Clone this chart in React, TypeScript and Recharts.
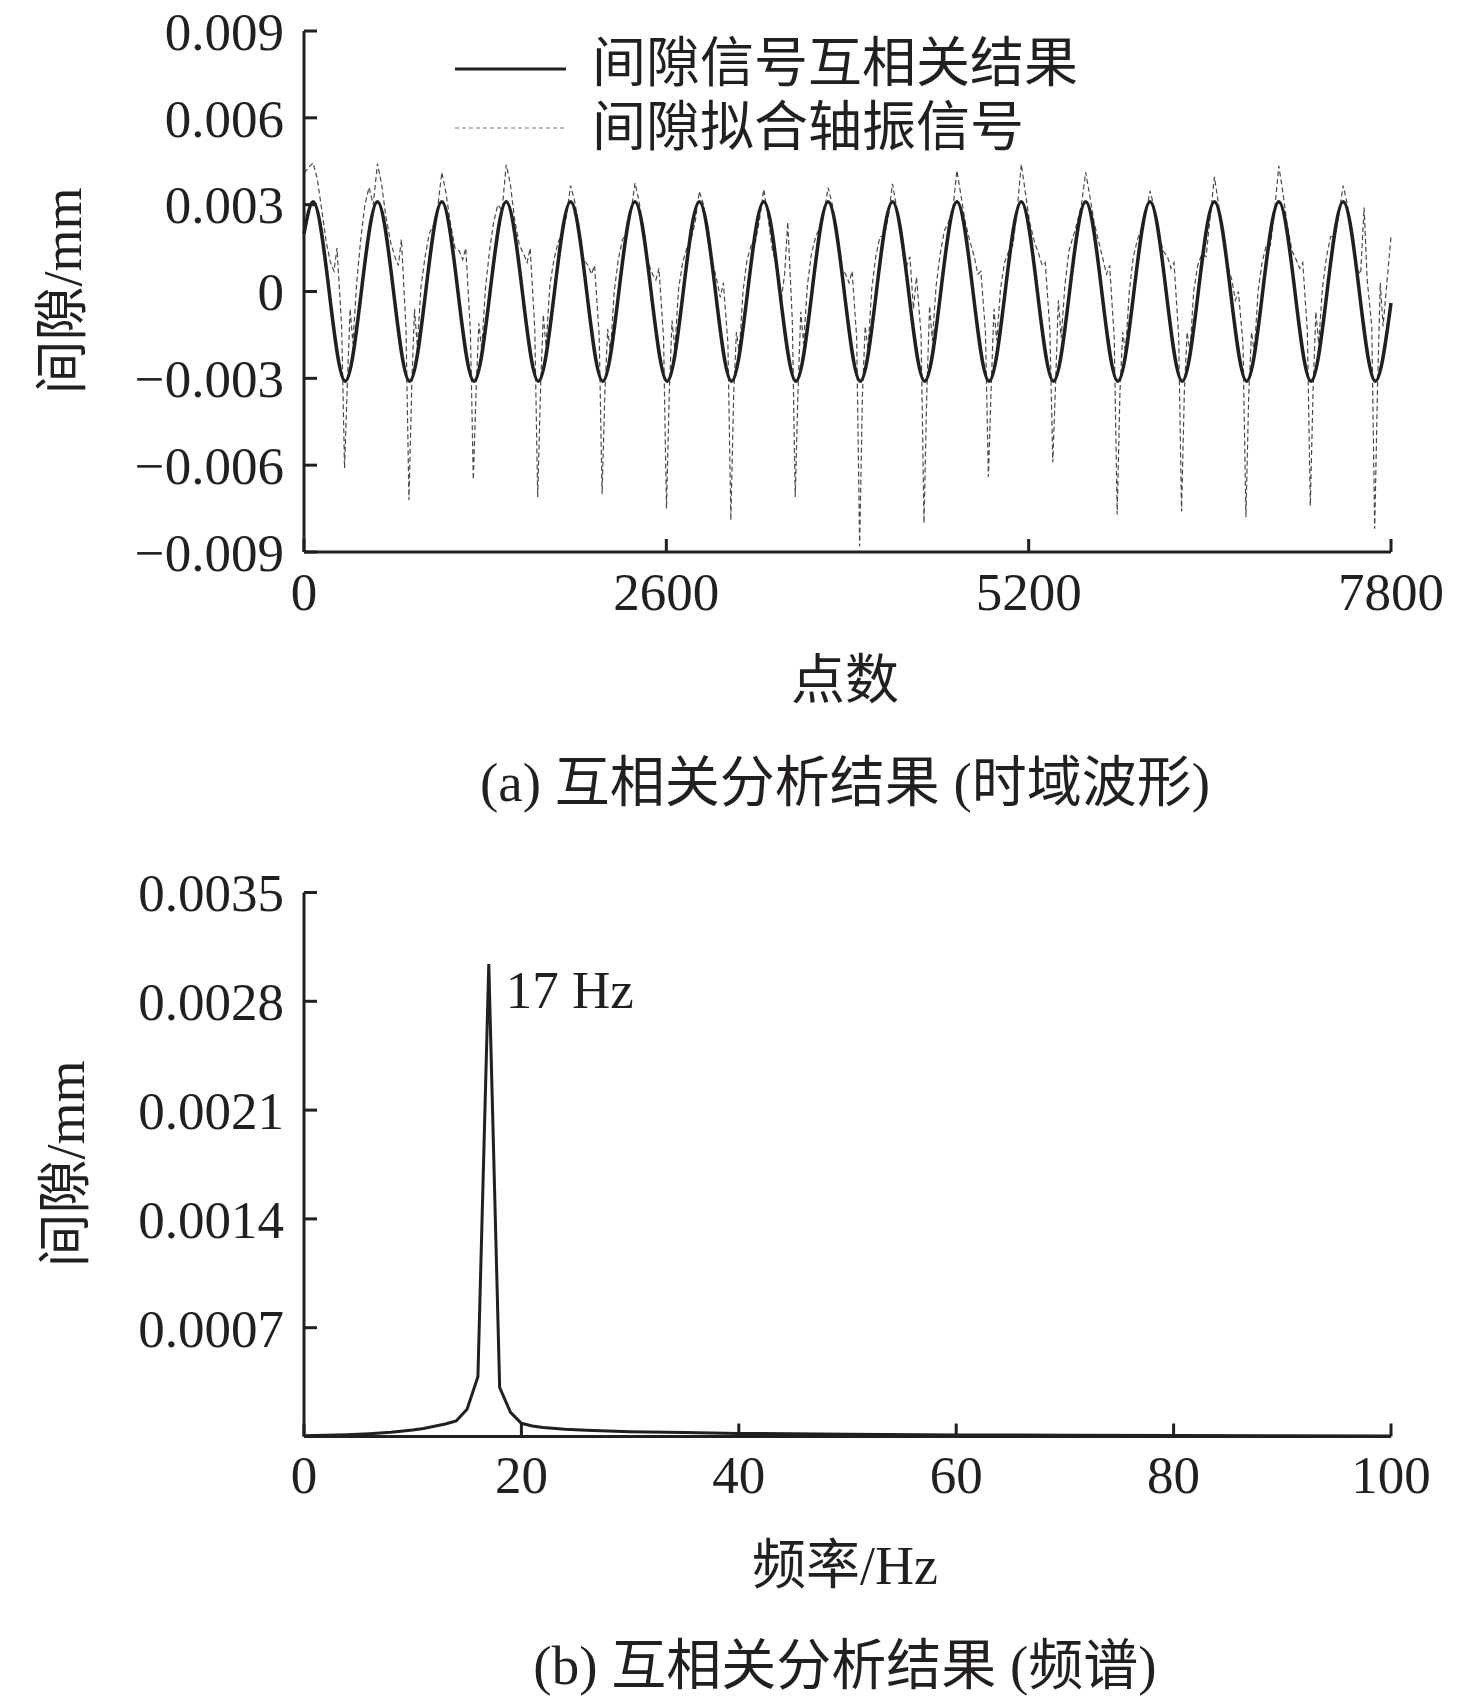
import { LineChart, Line, XAxis, YAxis, Legend, ReferenceDot } from "recharts";

const INK = "#231f20";
const SERIF = "'Liberation Serif', 'Times New Roman', 'Noto Sans CJK SC', serif";

// (a) time domain
const pointTicks = [0, 2600, 5200, 7800];
const gapTicks = [-0.009, -0.006, -0.003, 0, 0.003, 0.006, 0.009];

// cross-correlation result: start, alternating peaks / troughs, end
const corrX = [
  0, 65, 296, 527, 758, 989, 1220, 1451, 1682, 1913, 2144, 2375, 2606, 2837, 3068, 3299, 3530, 3761,
  3992, 4223, 4454, 4685, 4916, 5147, 5378, 5609, 5840, 6071, 6302, 6533, 6764, 6995, 7226, 7457,
  7688, 7800,
];
const corrY = [
  0.002, 0.0031, -0.0031, 0.0031, -0.0031, 0.0031, -0.0031, 0.0031, -0.0031, 0.0031, -0.0031, 0.0031,
  -0.0031, 0.0031, -0.0031, 0.0031, -0.0031, 0.0031, -0.0031, 0.0031, -0.0031, 0.0031, -0.0031, 0.0031,
  -0.0031, 0.0031, -0.0031, 0.0031, -0.0031, 0.0031, -0.0031, 0.0031, -0.0031, 0.0031, -0.0031, -0.0004,
];

// fitted shaft-vibration gap signal, one row per revolution
const fitSignal: [number, number][] = [
  [0, 0.0041], [65, 0.00445], [95, 0.0039], [125, 0.0029], [160, 0.0017], [190, 0.001], [215, 0.0007], [237, 0.0015], [270, -0.0012], [291, -0.0061], [311, -0.0032], [331, -0.0006], [351, -0.0018], [378, 0.0003],
  [407, 0.0018], [437, 0.003], [467, 0.0036], [497, 0.003], [527, 0.00442], [557, 0.0037], [587, 0.0026], [622, 0.0017], [652, 0.0012], [677, 0.0009], [699, 0.0018], [732, -0.0013], [753, -0.0072], [773, -0.0033], [793, -0.0006], [813, -0.0019], [840, 0.0002],
  [869, 0.0012], [899, 0.002], [929, 0.0023], [959, 0.0029], [989, 0.00412], [1019, 0.0034], [1049, 0.0024], [1084, 0.0015], [1114, 0.0014], [1139, 0.0011], [1161, 0.0015], [1194, -0.0014], [1215, -0.0065], [1235, -0.0034], [1255, -0.0011], [1275, -0.002], [1302, 0.0001],
  [1331, 0.0014], [1361, 0.0024], [1391, 0.003], [1421, 0.0028], [1451, 0.00438], [1481, 0.0037], [1511, 0.0025], [1546, 0.0016], [1576, 0.0013], [1601, 0.001], [1623, 0.0015], [1656, -0.0013], [1677, -0.0071], [1697, -0.0034], [1717, -0.0008], [1737, -0.0019], [1764, 0.0002],
  [1793, 0.0011], [1823, 0.0017], [1853, 0.002], [1883, 0.0026], [1913, 0.00366], [1943, 0.0031], [1973, 0.0022], [2008, 0.0011], [2038, 0.0009], [2063, 0.0006], [2085, 0.0009], [2118, -0.0015], [2139, -0.007], [2159, -0.0035], [2179, -0.0013], [2199, -0.0021], [2226, 0],
  [2255, 0.0011], [2285, 0.0018], [2315, 0.002], [2345, 0.0027], [2375, 0.00375], [2405, 0.0031], [2435, 0.0021], [2470, 0.001], [2500, 0.0006], [2525, 0.0004], [2547, 0.0008], [2580, -0.0016], [2601, -0.0075], [2621, -0.0035], [2641, -0.001], [2661, -0.002], [2688, 0.0001],
  [2717, 0.001], [2747, 0.0015], [2777, 0.0018], [2807, 0.0024], [2837, 0.00346], [2867, 0.003], [2897, 0.0018], [2932, 0.001], [2962, 0.0004], [2987, -0.0002], [3009, 0.0003], [3042, -0.0018], [3063, -0.0079], [3083, -0.0036], [3103, -0.0014], [3123, -0.0021], [3150, 0],
  [3179, 0.0011], [3209, 0.0016], [3239, 0.0017], [3269, 0.0025], [3299, 0.00353], [3329, 0.0026], [3359, 0.0015], [3394, 0.0008], [3424, -0.0003], [3449, 0.0006], [3471, 0.0024], [3504, -0.001], [3525, -0.0071], [3545, -0.0034], [3565, -0.0007], [3585, -0.0018], [3612, 0.0002],
  [3641, 0.0013], [3671, 0.0019], [3701, 0.0022], [3731, 0.0027], [3761, 0.00359], [3791, 0.003], [3821, 0.002], [3856, 0.0008], [3886, 0.0006], [3911, 0.0003], [3933, 0.0007], [3966, -0.0016], [3987, -0.0088], [4007, -0.0036], [4027, -0.0012], [4047, -0.002], [4074, 0.0001],
  [4103, 0.0012], [4133, 0.0019], [4163, 0.0019], [4193, 0.0026], [4223, 0.00372], [4253, 0.0029], [4283, 0.0019], [4318, 0.0008], [4348, 0.0012], [4373, -0.0006], [4395, 0.0005], [4428, -0.0015], [4449, -0.008], [4469, -0.0035], [4489, -0.0005], [4509, -0.0017], [4536, 0.0002],
  [4565, 0.0013], [4595, 0.0021], [4625, 0.0024], [4655, 0.0028], [4685, 0.00418], [4715, 0.0033], [4745, 0.0024], [4780, 0.0017], [4810, 0.0012], [4835, 0.0006], [4857, 0.0007], [4890, -0.0014], [4911, -0.0064], [4931, -0.0033], [4951, -0.0006], [4971, -0.0017], [4998, 0.0001],
  [5027, 0.001], [5057, 0.0014], [5087, 0.0016], [5117, 0.0028], [5147, 0.0044], [5177, 0.0034], [5207, 0.0024], [5242, 0.0017], [5272, 0.0013], [5297, 0.0009], [5319, 0.001], [5352, -0.0013], [5373, -0.0059], [5393, -0.0032], [5413, -0.0003], [5433, -0.0016], [5460, 0.0002],
  [5489, 0.0014], [5519, 0.0019], [5549, 0.0024], [5579, 0.003], [5609, 0.00412], [5639, 0.0033], [5669, 0.0024], [5704, 0.0017], [5734, 0.0011], [5759, 0.0006], [5781, 0.0009], [5814, -0.0016], [5835, -0.0077], [5855, -0.0035], [5875, -0.0014], [5895, -0.0021], [5922, 0],
  [5951, 0.0012], [5981, 0.0018], [6011, 0.0022], [6041, 0.0027], [6071, 0.00348], [6101, 0.0029], [6131, 0.002], [6166, 0.0014], [6196, 0.0012], [6221, 0.0008], [6243, 0.001], [6276, -0.0015], [6297, -0.0076], [6317, -0.0035], [6337, -0.0014], [6357, -0.0021], [6384, 0],
  [6413, 0.0009], [6443, 0.0013], [6473, 0.0012], [6503, 0.0026], [6533, 0.00396], [6563, 0.003], [6593, 0.0018], [6628, 0.0009], [6658, 0.0004], [6683, -0.0003], [6705, 0], [6738, -0.0018], [6759, -0.0078], [6779, -0.0036], [6799, -0.0014], [6819, -0.0021], [6846, 0],
  [6875, 0.001], [6905, 0.0016], [6935, 0.0016], [6965, 0.0028], [6995, 0.00434], [7025, 0.0034], [7055, 0.0023], [7090, 0.0014], [7120, 0.0011], [7145, 0.0008], [7167, 0.001], [7200, -0.0014], [7221, -0.0074], [7241, -0.0034], [7261, -0.0007], [7281, -0.0018], [7308, 0.0001],
  [7337, 0.0012], [7367, 0.0019], [7397, 0.0019], [7427, 0.0027], [7457, 0.00366], [7487, 0.003], [7517, 0.002], [7552, 0.0008], [7582, 0.0006], [7607, 0.0029], [7629, 0.0004], [7662, -0.0012], [7683, -0.0082], [7703, -0.0034], [7723, 0.0003], [7743, -0.0012], [7800, 0.0019],
];

// (b) spectrum
const freqTicks = [0, 20, 40, 60, 80, 100];
const ampTicks = [0.0007, 0.0014, 0.0021, 0.0028, 0.0035];
const freqHz = [0, 2, 4, 6, 8, 10, 11, 12, 13, 14, 15, 16, 17, 18, 19, 20, 21, 22, 24, 26, 28, 30, 35, 40, 50, 60, 70, 80, 90, 100];
const freqAmp = [
  0.000005, 0.000008, 0.000012, 0.000018, 0.000027, 0.000042, 0.000052, 0.000066, 0.00008, 0.0001,
  0.000175, 0.000385, 0.00304, 0.000315, 0.000155, 0.000085, 0.000068, 0.000058, 0.000047, 0.00004,
  0.000035, 0.000031, 0.000025, 0.00002, 0.000014, 0.00001, 0.000008, 0.000006, 0.000005, 0.000004,
];
const peakHz = 17;

const corrData = corrX.map((x, i) => ({ x, y: corrY[i] }));
const fitData = fitSignal.map(([x, y]) => ({ x, y }));
const specData = freqHz.map((x, i) => ({ x, y: freqAmp[i] }));
const peakAmp = freqAmp[freqHz.indexOf(peakHz)];

const axisStyle = { stroke: INK, strokeWidth: 3 };
const tickStyle = { fontSize: 53, fontFamily: SERIF, fill: INK };

const fmtGap = (v: number) => (v === 0 ? "0" : (v < 0 ? "\u2212" : "") + Math.abs(v).toFixed(3));
const fmtAmp = (v: number) => v.toFixed(4);

const renderLegend = () => (
  <svg width={1476} height={160} style={{ display: "block" }}>
    <line x1={455} x2={566} y1={69} y2={69} stroke={INK} strokeWidth={3} />
    <text x={592} y={82} fontSize={54} fontFamily={SERIF} fill={INK}>
      间隙信号互相关结果
    </text>
    <line x1={455} x2={566} y1={128} y2={128} stroke="#777" strokeWidth={1.2} strokeDasharray="4 3" />
    <text x={592} y={146} fontSize={54} fontFamily={SERIF} fill={INK}>
      间隙拟合轴振信号
    </text>
  </svg>
);

const PeakLabel = (props: any) => {
  const vb = props.viewBox || {};
  const cx = (vb.x ?? 0) + (vb.width ?? 0) / 2;
  const cy = (vb.y ?? 0) + (vb.height ?? 0) / 2;
  return (
    <text x={cx + 17} y={cy + 44} fontSize={53} fontFamily={SERIF} fill={INK}>
      {peakHz} Hz
    </text>
  );
};

export default function App() {
  return (
    <div
      style={{
        position: "absolute",
        left: 0,
        top: 0,
        width: 1476,
        height: 1697,
        background: "#fff",
        overflow: "hidden",
      }}
    >
      <div style={{ position: "absolute", left: 0, top: 0 }}>
        <LineChart width={1476} height={720} margin={{ top: 31, right: 85, bottom: 108, left: 0 }}>
          <XAxis
            type="number"
            dataKey="x"
            domain={[0, 7800]}
            ticks={pointTicks}
            interval={0}
            height={60}
            tickSize={-13}
            tickMargin={33}
            axisLine={axisStyle}
            tickLine={axisStyle}
            tick={tickStyle}
          />
          <YAxis
            type="number"
            domain={[-0.009, 0.009]}
            ticks={gapTicks}
            interval={0}
            allowDataOverflow
            width={304}
            tickSize={-13}
            tickMargin={33}
            tickFormatter={fmtGap}
            axisLine={axisStyle}
            tickLine={axisStyle}
            tick={tickStyle}
          />
          <Legend
            layout="vertical"
            align="center"
            verticalAlign="middle"
            wrapperStyle={{ left: 0, top: 0, width: 1476, height: 160 }}
            content={renderLegend}
          />
          <Line
            data={fitData}
            dataKey="y"
            type="linear"
            stroke="#4a4a4a"
            strokeWidth={1.2}
            strokeDasharray="5 3"
            dot={false}
            activeDot={false}
            isAnimationActive={false}
          />
          <Line
            data={corrData}
            dataKey="y"
            type="monotone"
            stroke={INK}
            strokeWidth={3.5}
            dot={false}
            activeDot={false}
            isAnimationActive={false}
          />
        </LineChart>
      </div>

      <div style={{ position: "absolute", left: 0, top: 860 }}>
        <LineChart width={1476} height={720} margin={{ top: 32.5, right: 85, bottom: 83.5, left: 0 }}>
          <XAxis
            type="number"
            dataKey="x"
            domain={[0, 100]}
            ticks={freqTicks}
            interval={0}
            height={60}
            tickSize={-13}
            tickMargin={32}
            axisLine={axisStyle}
            tickLine={axisStyle}
            tick={tickStyle}
          />
          <YAxis
            type="number"
            domain={[0, 0.0035]}
            ticks={ampTicks}
            interval={0}
            allowDataOverflow
            width={304}
            tickSize={-13}
            tickMargin={33}
            tickFormatter={fmtAmp}
            axisLine={axisStyle}
            tickLine={axisStyle}
            tick={tickStyle}
          />
          <Line
            data={specData}
            dataKey="y"
            type="linear"
            stroke={INK}
            strokeWidth={3}
            dot={false}
            activeDot={false}
            isAnimationActive={false}
          />
          <ReferenceDot x={peakHz} y={peakAmp} r={0} stroke="none" fill="none" label={<PeakLabel />} />
        </LineChart>
      </div>

      <svg
        width={1476}
        height={1697}
        style={{ position: "absolute", left: 0, top: 0, pointerEvents: "none" }}
        fontFamily={SERIF}
        fill={INK}
      >
        <text x={845} y={699} textAnchor="middle" fontSize={54}>
          点数
        </text>
        <text x={845} y={801} textAnchor="middle" fontSize={55}>
          (a) 互相关分析结果 (时域波形)
        </text>
        <text x={845} y={1584} textAnchor="middle" fontSize={54}>
          频率/Hz
        </text>
        <text x={845} y={1684} textAnchor="middle" fontSize={55}>
          (b) 互相关分析结果 (频谱)
        </text>
        <text transform="translate(81,291) rotate(-90)" textAnchor="middle" fontSize={54}>
          间隙/mm
        </text>
        <text transform="translate(84,1164) rotate(-90)" textAnchor="middle" fontSize={54}>
          间隙/mm
        </text>
      </svg>
    </div>
  );
}
